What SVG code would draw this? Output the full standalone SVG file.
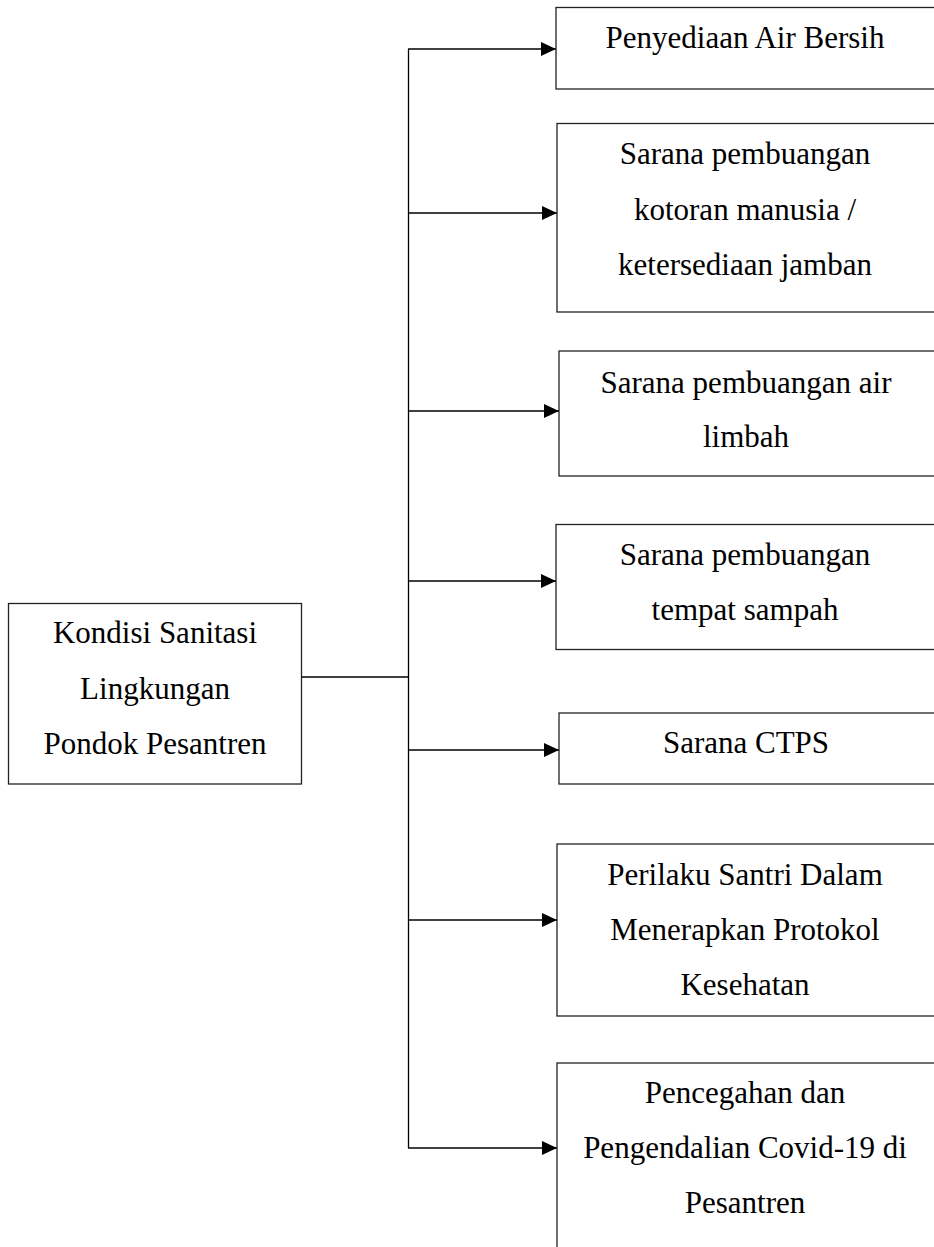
<svg xmlns="http://www.w3.org/2000/svg" width="934" height="1247" viewBox="0 0 934 1247">
<style>
.box{fill:#fff;stroke:#222;stroke-width:1.3}
.t{font-family:"Liberation Serif","Times New Roman",serif;font-size:31px;fill:#000;text-anchor:middle}
.c{stroke:#000;stroke-width:1.3;fill:none}
</style>
<defs>
<marker id="arr" markerWidth="15" markerHeight="14" refX="15" refY="7" orient="auto" markerUnits="userSpaceOnUse">
<path d="M0,0 L15,7 L0,14 Z" fill="#000"/>
</marker>
</defs>
<rect width="934" height="1247" fill="#fff"/>
<g id="connectors">
<line class="c" x1="302" y1="677" x2="408.5" y2="677"/>
<line class="c" x1="408.5" y1="49" x2="408.5" y2="1148"/>
<line class="c" x1="408" y1="49" x2="556" y2="49" marker-end="url(#arr)"/>
<line class="c" x1="408" y1="213" x2="557" y2="213" marker-end="url(#arr)"/>
<line class="c" x1="408" y1="411" x2="559" y2="411" marker-end="url(#arr)"/>
<line class="c" x1="408" y1="581" x2="556" y2="581" marker-end="url(#arr)"/>
<line class="c" x1="408" y1="750" x2="559" y2="750" marker-end="url(#arr)"/>
<line class="c" x1="408" y1="920" x2="557" y2="920" marker-end="url(#arr)"/>
<line class="c" x1="408" y1="1148" x2="557" y2="1148" marker-end="url(#arr)"/>
</g>
<g id="root">
<rect class="box" x="8.5" y="603.5" width="293" height="180.5"/>
<text class="t" x="155" y="643">Kondisi Sanitasi</text>
<text class="t" x="155" y="699">Lingkungan</text>
<text class="t" x="155" y="754">Pondok Pesantren</text>
</g>
<g id="n1">
<rect class="box" x="556" y="7.5" width="390" height="81.5"/>
<text class="t" x="745" y="48">Penyediaan Air Bersih</text>
</g>
<g id="n2">
<rect class="box" x="557" y="123.5" width="390" height="188.5"/>
<text class="t" x="745" y="164">Sarana pembuangan</text>
<text class="t" x="745" y="220">kotoran manusia /</text>
<text class="t" x="745" y="275">ketersediaan jamban</text>
</g>
<g id="n3">
<rect class="box" x="559" y="351" width="390" height="125"/>
<text class="t" x="746" y="393">Sarana pembuangan air</text>
<text class="t" x="746" y="447">limbah</text>
</g>
<g id="n4">
<rect class="box" x="556" y="524.5" width="390" height="125"/>
<text class="t" x="745" y="565">Sarana pembuangan</text>
<text class="t" x="745" y="620">tempat sampah</text>
</g>
<g id="n5">
<rect class="box" x="559" y="713" width="390" height="71"/>
<text class="t" x="746" y="753">Sarana CTPS</text>
</g>
<g id="n6">
<rect class="box" x="557" y="844" width="390" height="172"/>
<text class="t" x="745" y="885">Perilaku Santri Dalam</text>
<text class="t" x="745" y="940">Menerapkan Protokol</text>
<text class="t" x="745" y="995">Kesehatan</text>
</g>
<g id="n7">
<rect class="box" x="557" y="1063" width="390" height="200"/>
<text class="t" x="745" y="1103">Pencegahan dan</text>
<text class="t" x="745" y="1158">Pengendalian Covid-19 di</text>
<text class="t" x="745" y="1213">Pesantren</text>
</g>
</svg>
